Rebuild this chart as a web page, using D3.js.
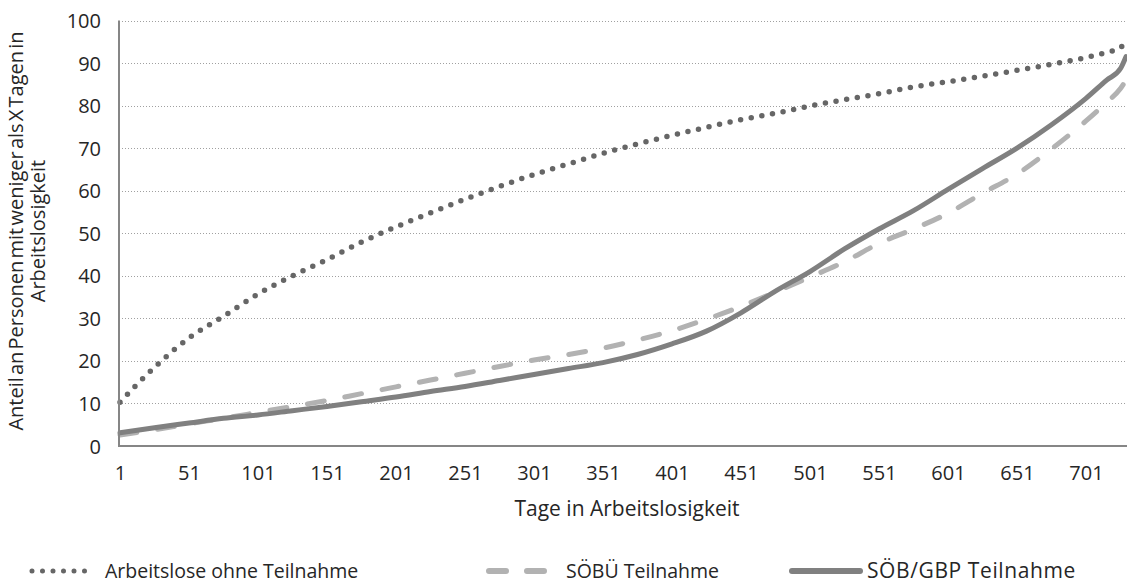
<!DOCTYPE html>
<html>
<head>
<meta charset="utf-8">
<script src="https://cdn.jsdelivr.net/npm/d3@7"></script>
<style>
  body { margin: 0; background: #fff; }
  svg text { font-family: "Open Sans", sans-serif; fill: #262626; }
</style>
</head>
<body>
<svg id="chart" width="1127" height="583"></svg>
<script>
// ---- data ----
const days = [1, 26, 51, 76, 101, 126, 151, 176, 201, 226, 251, 276, 301, 326, 351, 376, 401, 426, 451, 476, 501, 526, 551, 576, 601, 626, 651, 676, 701, 716, 726, 730];
const ohneTeilnahme = [10.3, 18.5, 25.4, 30.5, 35.7, 40.0, 43.8, 47.9, 51.5, 54.8, 58.0, 61.0, 63.8, 66.3, 68.8, 71.0, 73.0, 74.9, 76.7, 78.2, 79.9, 81.4, 82.8, 84.4, 85.6, 86.9, 88.3, 89.7, 91.3, 92.5, 93.6, 95.3];
const soebueTeilnahme = [2.6, 3.8, 5.2, 6.5, 7.9, 9.3, 10.7, 12.3, 13.9, 15.5, 17.1, 18.7, 20.2, 21.5, 23.0, 24.9, 27.1, 29.8, 32.8, 36.2, 39.7, 43.3, 47.6, 51.0, 54.7, 59.4, 63.9, 69.8, 76.4, 80.8, 84.0, 86.0];
const soebGbpTeilnahme = [3.1, 4.3, 5.4, 6.5, 7.3, 8.3, 9.3, 10.4, 11.5, 12.8, 14.0, 15.4, 16.8, 18.2, 19.6, 21.5, 24.0, 27.0, 31.3, 36.4, 41.0, 46.3, 51.0, 55.3, 60.3, 65.2, 70.0, 75.5, 81.7, 86.0, 88.7, 91.5];
const xTicks = [1, 51, 101, 151, 201, 251, 301, 351, 401, 451, 501, 551, 601, 651, 701];
const yTicks = [0, 10, 20, 30, 40, 50, 60, 70, 80, 90, 100];
const seriesNames = ["Arbeitslose ohne Teilnahme", "SÖBÜ Teilnahme", "SÖB/GBP Teilnahme"];
const yTitleLines = ["Anteil an Personen mit weniger als X Tagen in", "Arbeitslosigkeit"];
const xTitle = "Tage in Arbeitslosigkeit";

// ---- layout ----
const svg = d3.select("#chart");
const mLeft = 119, mRight = 1127, mTop = 20.5, mBottom = 446;
const x = d3.scaleLinear().domain([1, 730]).range([mLeft + 1, mRight - 1]);
const y = d3.scaleLinear().domain([0, 100]).range([mBottom, mTop]);

// gridlines
svg.append("g").selectAll("line").data(yTicks.filter(d => d > 0)).join("line")
  .attr("x1", mLeft).attr("x2", mRight)
  .attr("y1", d => Math.round(y(d)) + 0.5).attr("y2", d => Math.round(y(d)) + 0.5)
  .attr("stroke", "#a0a0a0").attr("stroke-width", 1).attr("stroke-dasharray", "1,2");

// y axis labels
const yAxis = d3.axisLeft(y).tickValues(yTicks).tickSize(0).tickPadding(18);
const gy = svg.append("g").attr("transform", `translate(${mLeft},0)`).call(yAxis);
gy.select(".domain").remove();
gy.selectAll("text").style("font-size", "20px").style("font-family", "Open Sans").attr("fill", "#262626").attr("dy", "0.35em");

// x axis labels
const xAxis = d3.axisBottom(x).tickValues(xTicks).tickSize(0).tickPadding(20).tickFormat(d3.format("d"));
const gx = svg.append("g").attr("transform", `translate(0,${mBottom})`).call(xAxis);
gx.select(".domain").remove();
gx.selectAll("text").style("font-size", "20px").style("font-family", "Open Sans").attr("fill", "#262626");

// series lines
const pts = vals => days.map((d, i) => [d, vals[i]]);
const line = d3.line().x(d => x(d[0])).y(d => y(d[1])).curve(d3.curveMonotoneX);

const styles = [
  { vals: ohneTeilnahme, color: "#666666", width: 5.5, dash: "0,10.8" },
  { vals: soebueTeilnahme, color: "#b2b2b2", width: 5, dash: "17,21" },
  { vals: soebGbpTeilnahme, color: "#808080", width: 5, dash: null }
];
const gl = svg.append("g");
styles.forEach(s => {
  gl.append("path").datum(pts(s.vals)).attr("d", line)
    .attr("fill", "none").attr("stroke", s.color).attr("stroke-width", s.width)
    .attr("stroke-linecap", "round").attr("stroke-linejoin", "round")
    .attr("stroke-dasharray", s.dash);
});

// axis lines
svg.append("line").attr("x1", mLeft).attr("x2", mLeft).attr("y1", mTop).attr("y2", mBottom + 1)
  .attr("stroke", "#868686").attr("stroke-width", 2);
svg.append("line").attr("x1", mLeft).attr("x2", mRight).attr("y1", mBottom).attr("y2", mBottom)
  .attr("stroke", "#868686").attr("stroke-width", 2);

// axis titles
svg.append("text").attr("x", 627).attr("y", 516).attr("text-anchor", "middle")
  .style("font-size", "21px").text(xTitle);
yTitleLines.forEach((t, i) => {
  svg.append("text").attr("transform", `translate(${23 + i * 22},231) rotate(-90)`)
    .attr("text-anchor", "middle").style("font-size", "20px").style("word-spacing", "-3px").text(t);
});

// legend
const legendItems = [
  { x0: 32, x1: 95, tx: 105, fs: 19.5, ls: 0 },
  { x0: 489, x1: 555, tx: 566, fs: 19.5, ls: 0 },
  { x0: 792, x1: 860, tx: 867, fs: 21, ls: 0.6 }
];
const ly = 571;
legendItems.forEach((li, i) => {
  const s = styles[i];
  svg.append("line").attr("x1", li.x0).attr("x2", li.x1).attr("y1", ly).attr("y2", ly)
    .attr("stroke", s.color).attr("stroke-width", i === 0 ? 5 : 6).attr("stroke-linecap", "round")
    .attr("stroke-dasharray", i === 0 ? "0,10.5" : (i === 1 ? "17,21" : null));
  svg.append("text").attr("x", li.tx).attr("y", ly).attr("dy", "0.35em")
    .style("font-size", li.fs + "px").style("letter-spacing", li.ls + "px").text(seriesNames[i]);
});
</script>
</body>
</html>
